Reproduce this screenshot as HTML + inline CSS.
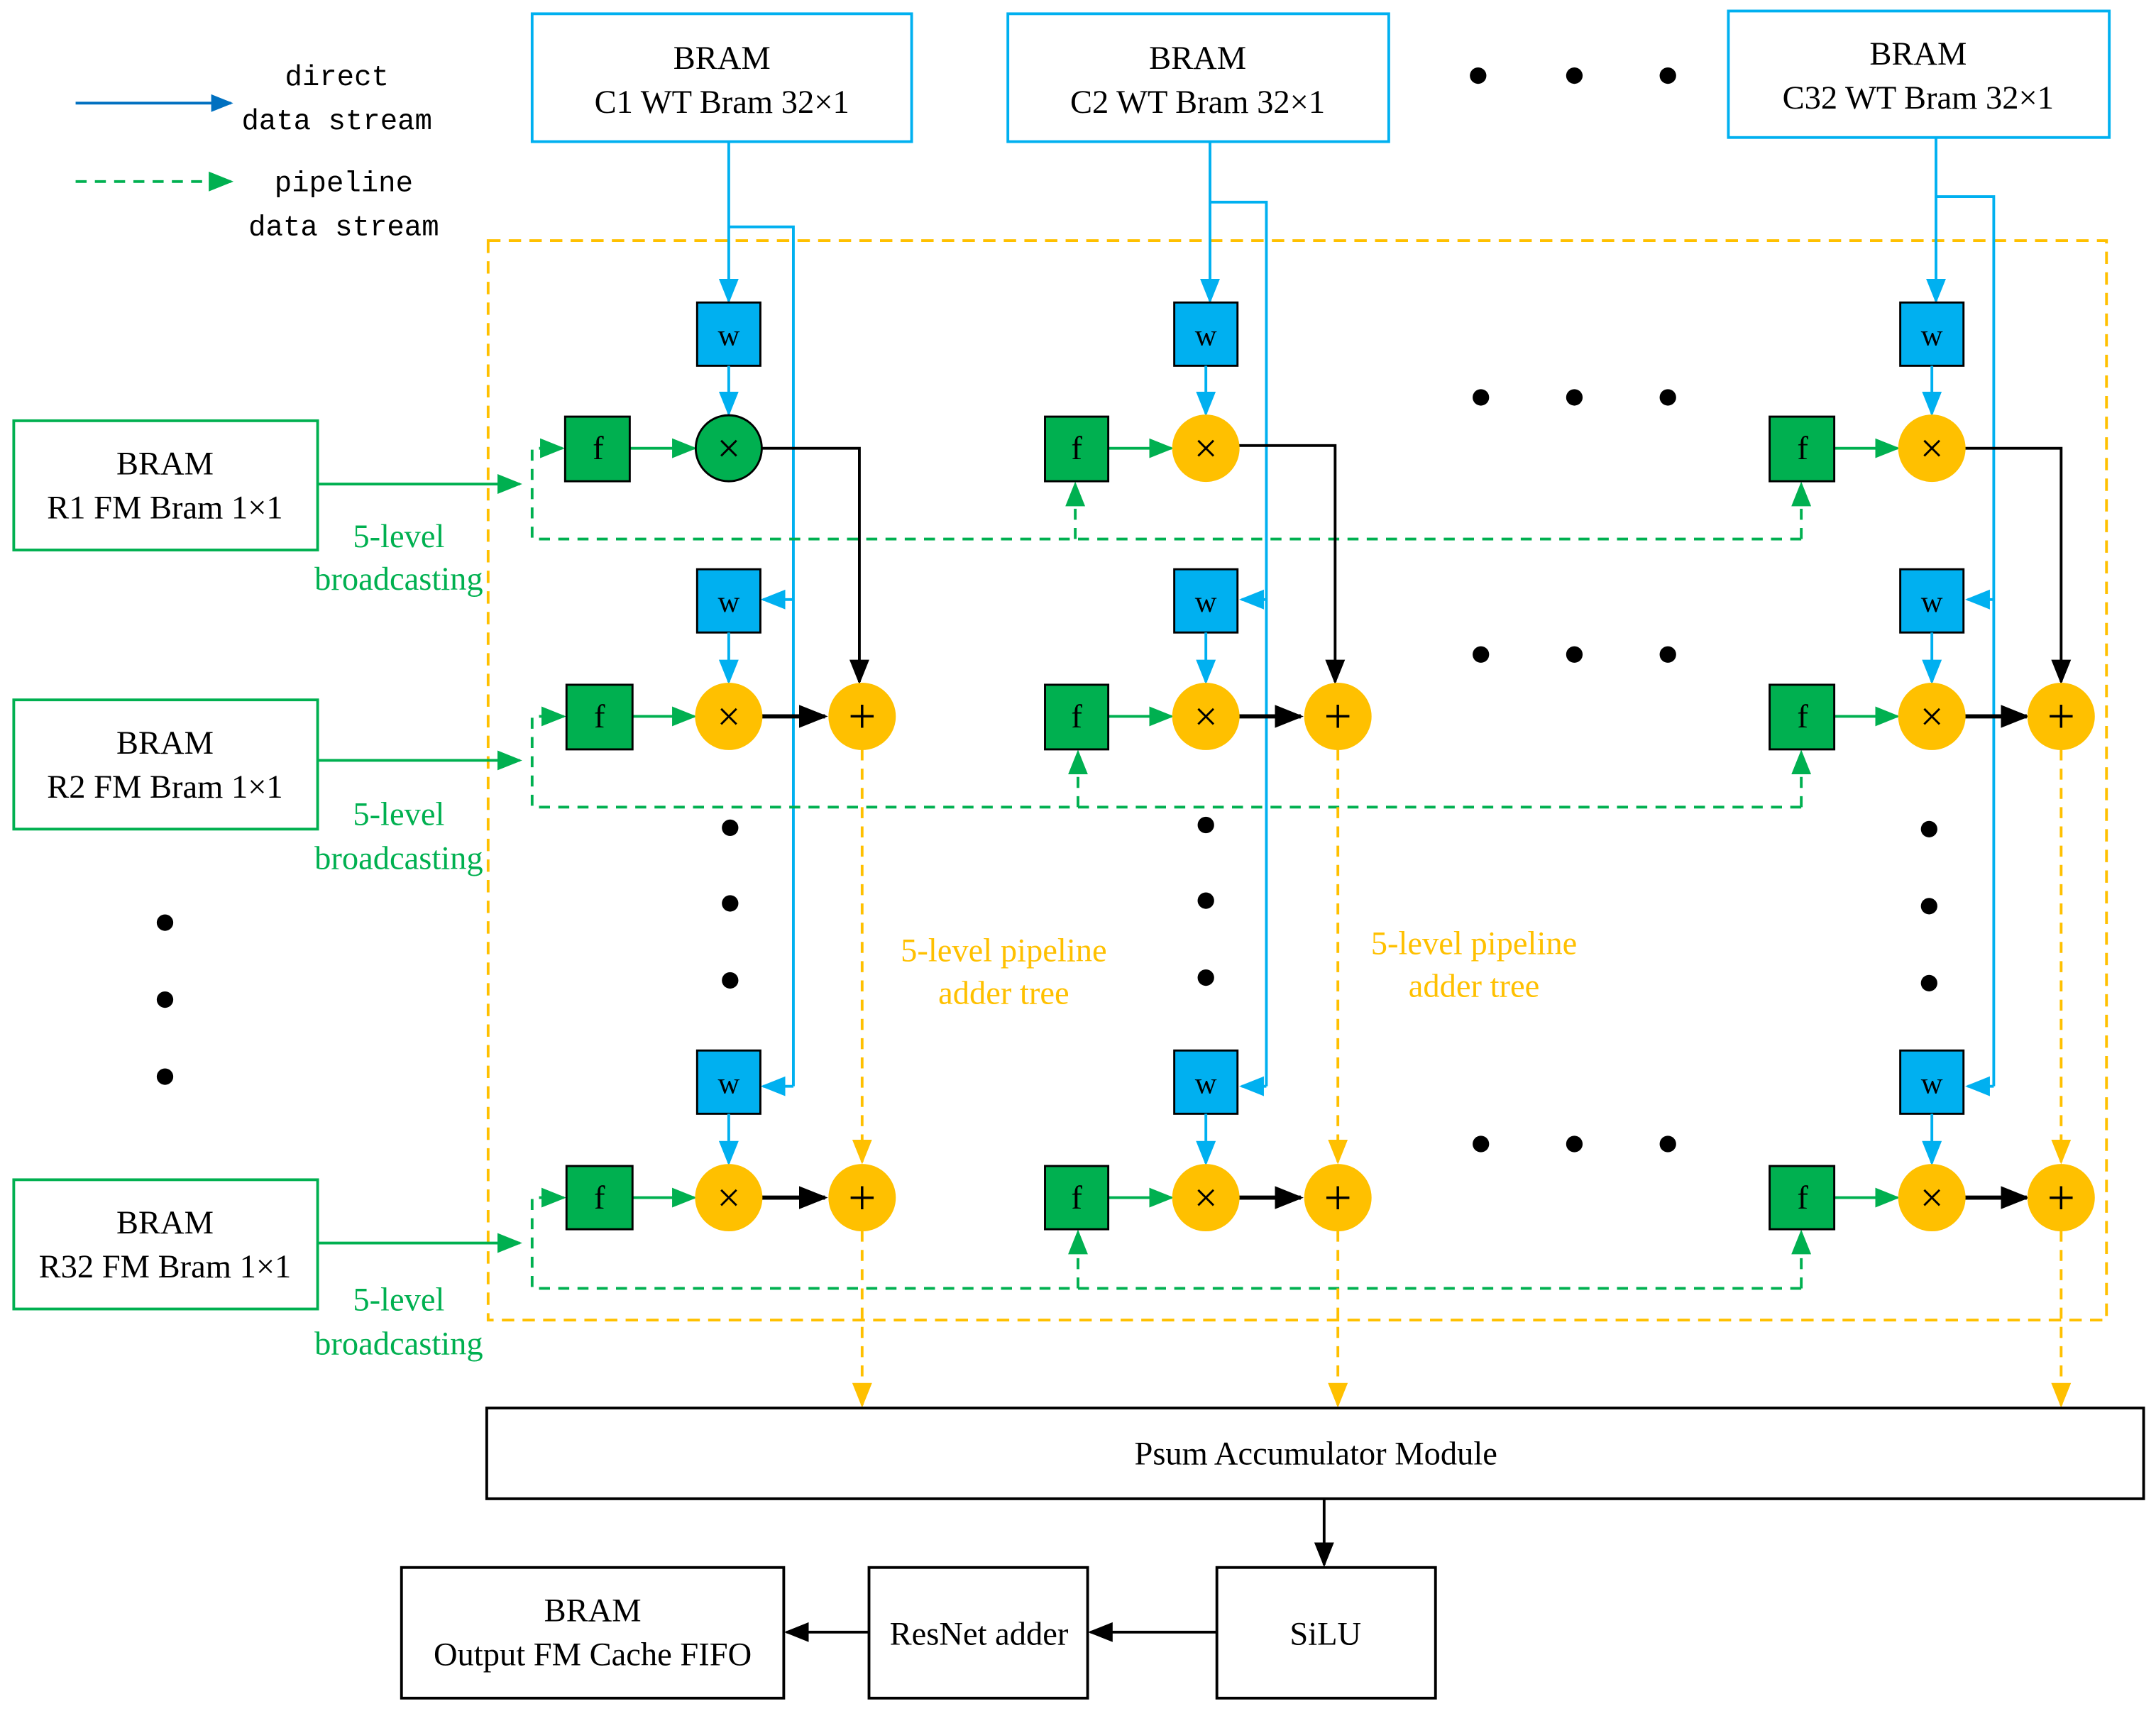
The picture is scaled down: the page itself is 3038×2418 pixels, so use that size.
<!DOCTYPE html>
<html><head><meta charset="utf-8"><style>html,body{margin:0;padding:0;background:#fff}svg{display:block}</style></head><body>
<svg width="3038" height="2418" viewBox="0 0 1568 1248" xmlns="http://www.w3.org/2000/svg" font-family="Liberation Serif, serif">
<defs>
<marker id="ab" viewBox="0 0 10 10" refX="9" refY="5" markerWidth="9" markerHeight="9" orient="auto"><path d="M0,1 L10,5 L0,9z" fill="#00b0f0"/></marker>
<marker id="ab2" viewBox="0 0 10 10" refX="9" refY="5" markerWidth="8" markerHeight="8" orient="auto"><path d="M0,1 L10,5 L0,9z" fill="#0070c0"/></marker>
<marker id="ag" viewBox="0 0 10 10" refX="9" refY="5" markerWidth="9" markerHeight="9" orient="auto"><path d="M0,1 L10,5 L0,9z" fill="#00b050"/></marker>
<marker id="ao" viewBox="0 0 10 10" refX="9" refY="5" markerWidth="9" markerHeight="9" orient="auto"><path d="M0,1 L10,5 L0,9z" fill="#ffc000"/></marker>
<marker id="ak" viewBox="0 0 10 10" refX="9" refY="5" markerWidth="9" markerHeight="9" orient="auto"><path d="M0,1 L10,5 L0,9z" fill="#000"/></marker>
<marker id="ak2" viewBox="0 0 10 10" refX="9" refY="5" markerWidth="7" markerHeight="7" orient="auto"><path d="M0,1 L10,5 L0,9z" fill="#000"/></marker>
</defs>
<rect width="1568" height="1248" fill="#fff"/>
<line x1="55" y1="75" x2="168" y2="75" stroke="#0070c0" stroke-width="2" marker-end="url(#ab2)"/>
<line x1="55" y1="132" x2="168" y2="132" stroke="#00b050" stroke-width="2" stroke-dasharray="8,6" marker-end="url(#ag)"/>
<g font-family="Liberation Mono, monospace" font-size="21" text-anchor="middle" fill="#000">
<text x="245" y="62">direct</text><text x="245" y="94">data stream</text>
<text x="250" y="139">pipeline</text><text x="250" y="171">data stream</text></g>
<g fill="#fff" stroke="#00b0f0" stroke-width="2">
<rect x="387" y="10" width="276" height="93"/><rect x="733" y="10" width="277" height="93"/><rect x="1257" y="8" width="277" height="92"/></g>
<g font-size="24" text-anchor="middle">
<text x="525" y="50">BRAM</text><text x="525" y="82">C1 WT Bram 32×1</text>
<text x="871" y="50">BRAM</text><text x="871" y="82">C2 WT Bram 32×1</text>
<text x="1395" y="47">BRAM</text><text x="1395" y="79">C32 WT Bram 32×1</text></g>
<g fill="#000">
<circle cx="1075" cy="55" r="6"/><circle cx="1145" cy="55" r="6"/><circle cx="1213" cy="55" r="6"/>
<circle cx="1077" cy="289" r="6"/><circle cx="1145" cy="289" r="6"/><circle cx="1213" cy="289" r="6"/>
<circle cx="1077" cy="476" r="6"/><circle cx="1145" cy="476" r="6"/><circle cx="1213" cy="476" r="6"/>
<circle cx="1077" cy="832" r="6"/><circle cx="1145" cy="832" r="6"/><circle cx="1213" cy="832" r="6"/>
<circle cx="120" cy="671" r="6"/><circle cx="120" cy="727" r="6"/><circle cx="120" cy="783" r="6"/>
<circle cx="531" cy="602" r="6"/><circle cx="531" cy="657" r="6"/><circle cx="531" cy="713" r="6"/>
<circle cx="877" cy="600" r="6"/><circle cx="877" cy="655" r="6"/><circle cx="877" cy="711" r="6"/>
<circle cx="1403" cy="603" r="6"/><circle cx="1403" cy="659" r="6"/><circle cx="1403" cy="715" r="6"/>
</g>
<rect x="355" y="175" width="1177" height="785" fill="none" stroke="#ffc000" stroke-width="2" stroke-dasharray="9,6"/>
<g stroke="#00b0f0" stroke-width="2" fill="none">
<line x1="530" y1="103" x2="530" y2="219" marker-end="url(#ab)"/>
<polyline points="530,165 577,165 577,790"/>
<line x1="577" y1="436" x2="555" y2="436" marker-end="url(#ab)"/>
<line x1="577" y1="790" x2="555" y2="790" marker-end="url(#ab)"/>
<line x1="880" y1="103" x2="880" y2="219" marker-end="url(#ab)"/>
<polyline points="880,147 921,147 921,790"/>
<line x1="921" y1="436" x2="903" y2="436" marker-end="url(#ab)"/>
<line x1="921" y1="790" x2="903" y2="790" marker-end="url(#ab)"/>
<line x1="1408" y1="100" x2="1408" y2="219" marker-end="url(#ab)"/>
<polyline points="1408,143 1450,143 1450,790"/>
<line x1="1450" y1="436" x2="1431" y2="436" marker-end="url(#ab)"/>
<line x1="1450" y1="790" x2="1431" y2="790" marker-end="url(#ab)"/>
</g>
<g stroke="#000" stroke-width="1.5" fill="#00b0f0">
<rect x="507" y="220" width="46" height="46"/><rect x="507" y="414" width="46" height="46"/><rect x="507" y="764" width="46" height="46"/>
<rect x="854" y="220" width="46" height="46"/><rect x="854" y="414" width="46" height="46"/><rect x="854" y="764" width="46" height="46"/>
<rect x="1382" y="220" width="46" height="46"/><rect x="1382" y="414" width="46" height="46"/><rect x="1382" y="764" width="46" height="46"/>
</g>
<g stroke="#00b0f0" stroke-width="2">
<line x1="530" y1="266" x2="530" y2="301" marker-end="url(#ab)"/><line x1="530" y1="460" x2="530" y2="496" marker-end="url(#ab)"/><line x1="530" y1="810" x2="530" y2="846" marker-end="url(#ab)"/>
<line x1="877" y1="266" x2="877" y2="301" marker-end="url(#ab)"/><line x1="877" y1="460" x2="877" y2="496" marker-end="url(#ab)"/><line x1="877" y1="810" x2="877" y2="846" marker-end="url(#ab)"/>
<line x1="1405" y1="266" x2="1405" y2="301" marker-end="url(#ab)"/><line x1="1405" y1="460" x2="1405" y2="496" marker-end="url(#ab)"/><line x1="1405" y1="810" x2="1405" y2="846" marker-end="url(#ab)"/>
</g>
<g font-size="22" text-anchor="middle">
<text x="530" y="251">w</text><text x="530" y="445">w</text><text x="530" y="795">w</text>
<text x="877" y="251">w</text><text x="877" y="445">w</text><text x="877" y="795">w</text>
<text x="1405" y="251">w</text><text x="1405" y="445">w</text><text x="1405" y="795">w</text></g>
<g fill="#fff" stroke="#00b050" stroke-width="2">
<rect x="10" y="306" width="221" height="94"/><rect x="10" y="509" width="221" height="94"/><rect x="10" y="858" width="221" height="94"/></g>
<g font-size="24" text-anchor="middle">
<text x="120" y="345">BRAM</text><text x="120" y="377">R1  FM Bram 1×1</text>
<text x="120" y="548">BRAM</text><text x="120" y="580">R2  FM Bram 1×1</text>
<text x="120" y="897">BRAM</text><text x="120" y="929">R32  FM Bram 1×1</text></g>
<g font-size="24" text-anchor="middle" fill="#00b050">
<text x="290" y="398">5-level</text><text x="290" y="429">broadcasting</text>
<text x="290" y="600">5-level</text><text x="290" y="632">broadcasting</text>
<text x="290" y="953">5-level</text><text x="290" y="985">broadcasting</text></g>
<g stroke="#00b050" stroke-width="2" fill="none">
<line x1="231" y1="352" x2="378" y2="352" marker-end="url(#ag)"/>
<line x1="231" y1="553" x2="378" y2="553" marker-end="url(#ag)"/>
<line x1="231" y1="904" x2="378" y2="904" marker-end="url(#ag)"/>
<g stroke-dasharray="8,6">
<polyline points="1310,392 387,392 387,326 409,326" marker-end="url(#ag)"/>
<line x1="782" y1="392" x2="782" y2="352" marker-end="url(#ag)"/><line x1="1310" y1="392" x2="1310" y2="352" marker-end="url(#ag)"/>
<polyline points="1310,587 387,587 387,521 410,521" marker-end="url(#ag)"/>
<line x1="784" y1="587" x2="784" y2="547" marker-end="url(#ag)"/><line x1="1310" y1="587" x2="1310" y2="547" marker-end="url(#ag)"/>
<polyline points="1310,937 387,937 387,871 410,871" marker-end="url(#ag)"/>
<line x1="784" y1="937" x2="784" y2="896" marker-end="url(#ag)"/><line x1="1310" y1="937" x2="1310" y2="896" marker-end="url(#ag)"/>
</g>
<line x1="458" y1="326" x2="505" y2="326" marker-end="url(#ag)"/><line x1="460" y1="521" x2="505" y2="521" marker-end="url(#ag)"/><line x1="460" y1="871" x2="505" y2="871" marker-end="url(#ag)"/>
<line x1="806" y1="326" x2="852" y2="326" marker-end="url(#ag)"/><line x1="806" y1="521" x2="852" y2="521" marker-end="url(#ag)"/><line x1="806" y1="871" x2="852" y2="871" marker-end="url(#ag)"/>
<line x1="1334" y1="326" x2="1380" y2="326" marker-end="url(#ag)"/><line x1="1334" y1="521" x2="1380" y2="521" marker-end="url(#ag)"/><line x1="1334" y1="871" x2="1380" y2="871" marker-end="url(#ag)"/>
</g>
<g stroke="#000" stroke-width="1.5" fill="#00b050">
<rect x="411" y="303" width="47" height="47"/><rect x="412" y="498" width="48" height="47"/><rect x="412" y="848" width="48" height="46"/>
<rect x="760" y="303" width="46" height="47"/><rect x="760" y="498" width="46" height="47"/><rect x="760" y="848" width="46" height="46"/>
<rect x="1287" y="303" width="47" height="47"/><rect x="1287" y="498" width="47" height="47"/><rect x="1287" y="848" width="47" height="46"/></g>
<g font-size="24" text-anchor="middle">
<text x="435" y="334">f</text><text x="436" y="529">f</text><text x="436" y="879">f</text>
<text x="783" y="334">f</text><text x="783" y="529">f</text><text x="783" y="879">f</text>
<text x="1311" y="334">f</text><text x="1311" y="529">f</text><text x="1311" y="879">f</text></g>
<g stroke="#000" stroke-width="2" fill="none">
<polyline points="553,326 625,326 625,496" marker-end="url(#ak)"/>
<polyline points="900,324 971,324 971,496" marker-end="url(#ak)"/>
<polyline points="1428,326 1499,326 1499,496" marker-end="url(#ak)"/>
<g stroke-width="3">
<line x1="553" y1="521" x2="600" y2="521" marker-end="url(#ak2)"/><line x1="553" y1="871" x2="600" y2="871" marker-end="url(#ak2)"/>
<line x1="900" y1="521" x2="946" y2="521" marker-end="url(#ak2)"/><line x1="900" y1="871" x2="946" y2="871" marker-end="url(#ak2)"/>
<line x1="1428" y1="521" x2="1474" y2="521" marker-end="url(#ak2)"/><line x1="1428" y1="871" x2="1474" y2="871" marker-end="url(#ak2)"/>
</g>
<line x1="963" y1="1090" x2="963" y2="1138" marker-end="url(#ak)"/>
<line x1="885" y1="1187" x2="793" y2="1187" marker-end="url(#ak)"/>
<line x1="632" y1="1187" x2="572" y2="1187" marker-end="url(#ak)"/>
</g>
<g stroke="#ffc000" stroke-width="2" stroke-dasharray="8,6" fill="none">
<line x1="627" y1="545" x2="627" y2="845" marker-end="url(#ao)"/><line x1="627" y1="895" x2="627" y2="1022" marker-end="url(#ao)"/>
<line x1="973" y1="545" x2="973" y2="845" marker-end="url(#ao)"/><line x1="973" y1="895" x2="973" y2="1022" marker-end="url(#ao)"/>
<line x1="1499" y1="545" x2="1499" y2="845" marker-end="url(#ao)"/><line x1="1499" y1="895" x2="1499" y2="1022" marker-end="url(#ao)"/>
</g>
<g stroke="#ffc000" stroke-width="1" fill="#ffc000">
<circle cx="530" cy="521" r="24"/><circle cx="530" cy="871" r="24"/>
<circle cx="877" cy="326" r="24"/><circle cx="877" cy="521" r="24"/><circle cx="877" cy="871" r="24"/>
<circle cx="1405" cy="326" r="24"/><circle cx="1405" cy="521" r="24"/><circle cx="1405" cy="871" r="24"/>
<circle cx="627" cy="521" r="24"/><circle cx="627" cy="871" r="24"/>
<circle cx="973" cy="521" r="24"/><circle cx="973" cy="871" r="24"/>
<circle cx="1499" cy="521" r="24"/><circle cx="1499" cy="871" r="24"/>
</g>
<circle cx="530" cy="326" r="24" fill="#00b050" stroke="#000" stroke-width="1.5"/>
<g font-size="30" text-anchor="middle" fill="#000">
<text x="530" y="336">×</text><text x="530" y="531">×</text><text x="530" y="881">×</text>
<text x="877" y="336">×</text><text x="877" y="531">×</text><text x="877" y="881">×</text>
<text x="1405" y="336">×</text><text x="1405" y="531">×</text><text x="1405" y="881">×</text></g>
<g font-size="36" text-anchor="middle" fill="#000">
<text x="627" y="533">+</text><text x="627" y="883">+</text><text x="973" y="533">+</text><text x="973" y="883">+</text><text x="1499" y="533">+</text><text x="1499" y="883">+</text></g>
<g font-size="24" text-anchor="middle" fill="#ffc000">
<text x="730" y="699">5-level pipeline</text><text x="730" y="730">adder tree</text>
<text x="1072" y="694">5-level pipeline</text><text x="1072" y="725">adder tree</text></g>
<g fill="#fff" stroke="#000" stroke-width="2">
<rect x="354" y="1024" width="1205" height="66"/>
<rect x="885" y="1140" width="159" height="95"/>
<rect x="632" y="1140" width="159" height="95"/>
<rect x="292" y="1140" width="278" height="95"/></g>
<g font-size="24" text-anchor="middle">
<text x="957" y="1065">Psum Accumulator Module</text>
<text x="964" y="1196">SiLU</text>
<text x="712" y="1196">ResNet adder</text>
<text x="431" y="1179">BRAM</text><text x="431" y="1211">Output FM Cache FIFO</text></g>
</svg>
</body></html>
